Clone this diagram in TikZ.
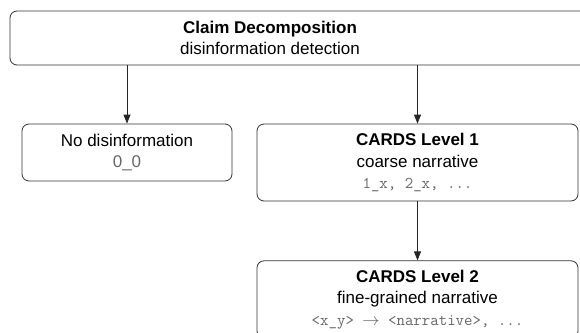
\documentclass[tikz,border=0pt]{standalone}
\usepackage{fontspec}
\setmainfont{Liberation Sans}
\usetikzlibrary{arrows.meta,positioning}
\tikzset{bx/.style={draw=black!80,line width=0.8pt,rounded corners=7pt,align=center,font=\fontsize{17}{21.5}\selectfont,inner sep=2pt},
 ar/.style={draw=black!85,line width=0.8pt,-{Triangle[length=9pt,width=7pt]}},
 tx/.style={align=center,font=\fontsize{17}{21.5}\selectfont,inner sep=0pt}}
\newcommand{\codetxt}[1]{{\color{black!60}\ttfamily\fontsize{16.4}{21.5}\selectfont #1}}
\newcommand{\graytxt}[1]{{\color{black!60}#1}}
\begin{document}
\begin{tikzpicture}[x=1pt,y=-1pt,node distance=59pt]
\useasboundingbox (0,0) rectangle (580,332);\clip (0,0) rectangle (580,332);
\node[bx,minimum width=610pt,minimum height=54pt](claim) at (315,38){};\node[tx](claimtxt) at (270,38){\textbf{Claim Decomposition}\\disinformation detection};
\node[bx,minimum width=210pt,minimum height=57pt](nodis) at (127,152.5){No disinformation\\\graytxt{0\_0}};
\node[bx,minimum width=321pt,minimum height=77pt](lvla) at (417.5,162.5){\textbf{CARDS Level 1}\\coarse narrative\\\codetxt{1\_x, 2\_x, ...}};
\node[bx,minimum width=321pt,minimum height=77pt,below=of lvla](lvlb){\textbf{CARDS Level 2}\\fine-grained narrative\\\codetxt{<x\_y> $\rightarrow$ <narrative>, ...}};
\draw[ar](claim.south -| nodis)--(nodis);\draw[ar](claim.south -| lvla)--(lvla);\draw[ar](lvla)--(lvlb);
\end{tikzpicture}
\end{document}
